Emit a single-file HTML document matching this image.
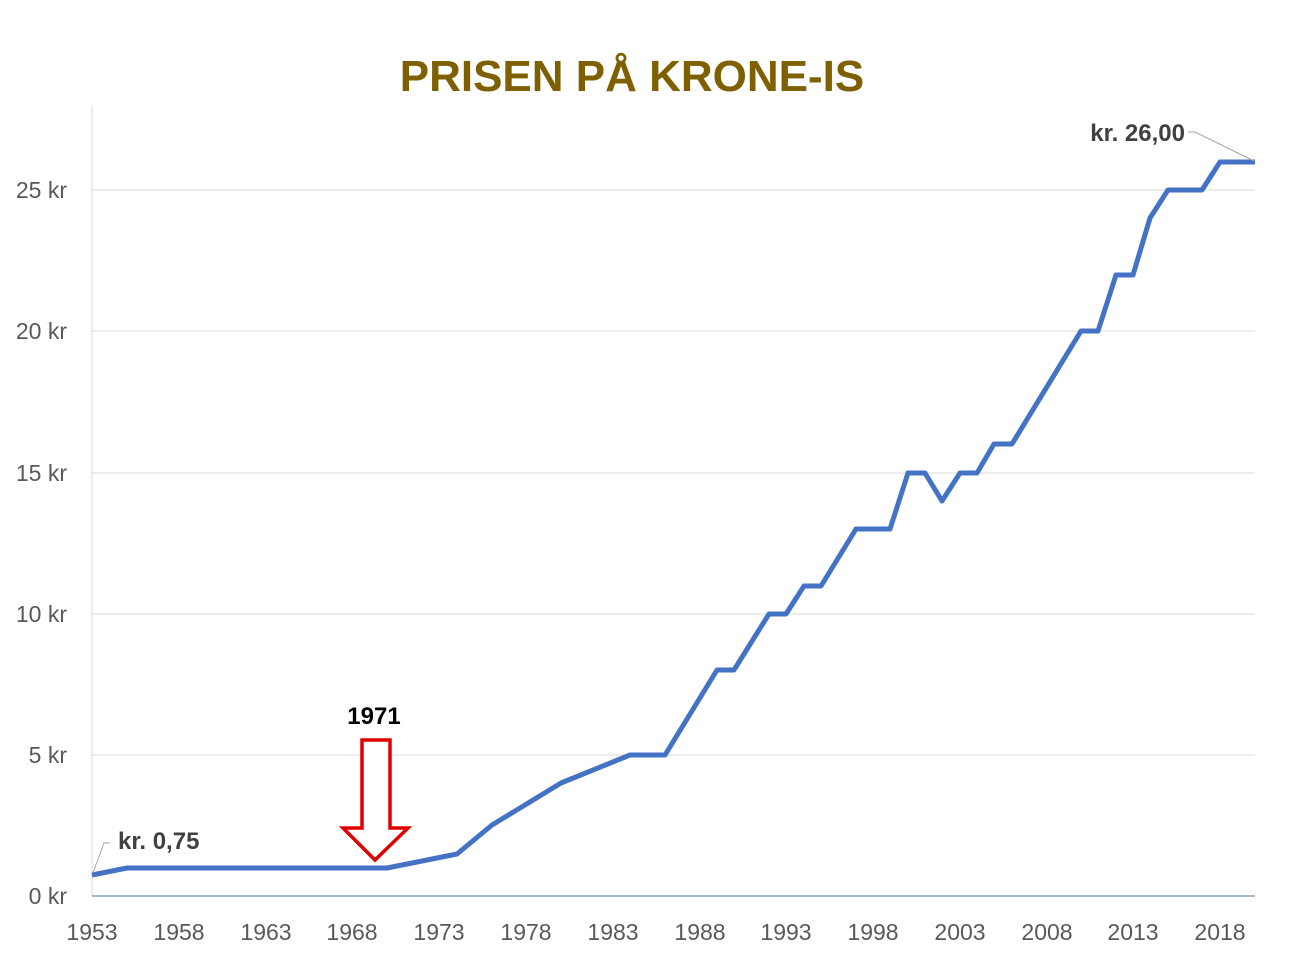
<!DOCTYPE html>
<html><head><meta charset="utf-8"><style>
body{margin:0;background:#fff}
svg text{font-family:"Liberation Sans",sans-serif}
</style></head><body>
<svg width="1300" height="958" viewBox="0 0 1300 958" xmlns="http://www.w3.org/2000/svg">
<rect width="1300" height="958" fill="#fff"/>
<text x="632" y="91" text-anchor="middle" font-size="44" font-weight="bold" fill="#7f6000">PRISEN PÅ KRONE-IS</text>
<g stroke="#d9d9d9" stroke-width="1">
<line x1="92" y1="190" x2="1255" y2="190"/>
<line x1="92" y1="331" x2="1255" y2="331"/>
<line x1="92" y1="473" x2="1255" y2="473"/>
<line x1="92" y1="614" x2="1255" y2="614"/>
<line x1="92" y1="755" x2="1255" y2="755"/>
<line x1="92" y1="105" x2="92" y2="896"/>
</g>
<line x1="92" y1="896" x2="1255" y2="896" stroke="#8ea3c4" stroke-width="1.5"/>
<g font-size="23" fill="#595959" text-anchor="end">
<text x="67" y="904">0 kr</text>
<text x="67" y="763">5 kr</text>
<text x="67" y="622">10 kr</text>
<text x="67" y="481">15 kr</text>
<text x="67" y="339">20 kr</text>
<text x="67" y="198">25 kr</text>
</g>
<g font-size="23" fill="#595959" text-anchor="middle">
<text x="92" y="940">1953</text><text x="179" y="940">1958</text><text x="266" y="940">1963</text>
<text x="352" y="940">1968</text><text x="439" y="940">1973</text><text x="526" y="940">1978</text>
<text x="613" y="940">1983</text><text x="700" y="940">1988</text><text x="786" y="940">1993</text>
<text x="873" y="940">1998</text><text x="960" y="940">2003</text><text x="1047" y="940">2008</text>
<text x="1133" y="940">2013</text><text x="1220" y="940">2018</text>
</g>
<polyline fill="none" stroke="#4472c4" stroke-width="5" stroke-linejoin="round" points="92,875 127,868 387,868 457,854 492,825 561,783 630,755 665,755 717,670 734,670 769,614 786,614 804,586 821,586 856,529 890,529 908,473 925,473 942,501 960,473 977,473 994,444 1012,444 1081,331 1098,331 1116,275 1133,275 1150,218 1168,190 1202,190 1220,162 1255,162"/>
<polyline fill="none" stroke="#a6a6a6" stroke-width="1" points="93,873 104,843 110,843"/>
<polyline fill="none" stroke="#a6a6a6" stroke-width="1" points="1254,161 1195,132 1188,132"/>
<text x="118" y="849" font-size="24" font-weight="bold" fill="#404040">kr. 0,75</text>
<text x="1185" y="141" font-size="24" font-weight="bold" fill="#404040" text-anchor="end">kr. 26,00</text>
<text x="374" y="724" font-size="24" font-weight="bold" fill="#000" text-anchor="middle">1971</text>
<polygon points="362,740 390,740 390,828 408,828 375,860 343,828 362,828" fill="#fff" stroke="#e00000" stroke-width="3.5" stroke-linejoin="miter"/>
</svg>
</body></html>
